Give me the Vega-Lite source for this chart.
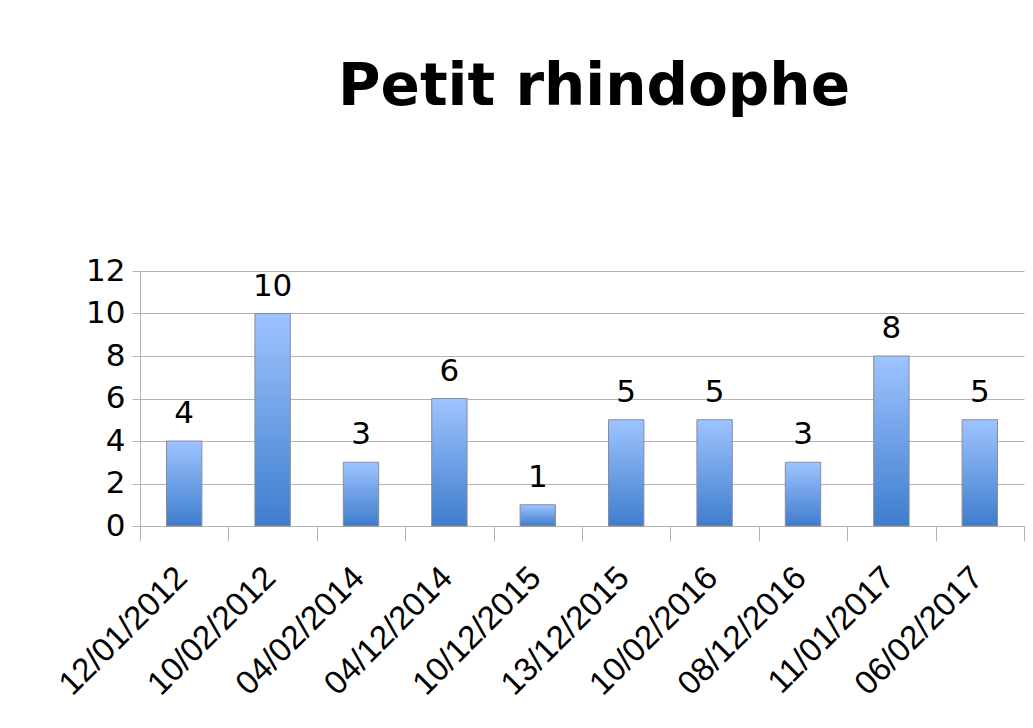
{
  "$schema": "https://vega.github.io/schema/vega-lite/v6.json",
  "width": 884,
  "height": 255,
  "autosize": "none",
  "padding": {"left": 140, "top": 271, "right": 9, "bottom": 202},
  "background": "white",
  "title": {
    "text": "Petit rhindophe",
    "font": "DejaVu Sans",
    "fontWeight": "bold",
    "fontSize": 58,
    "color": "black",
    "anchor": "middle",
    "offset": 138,
    "dx": 12
  },
  "data": {
    "values": [
      {"date": "12/01/2012", "count": 4},
      {"date": "10/02/2012", "count": 10},
      {"date": "04/02/2014", "count": 3},
      {"date": "04/12/2014", "count": 6},
      {"date": "10/12/2015", "count": 1},
      {"date": "13/12/2015", "count": 5},
      {"date": "10/02/2016", "count": 5},
      {"date": "08/12/2016", "count": 3},
      {"date": "11/01/2017", "count": 8},
      {"date": "06/02/2017", "count": 5}
    ]
  },
  "encoding": {
    "x": {
      "field": "date",
      "type": "nominal",
      "sort": null,
      "title": null,
      "scale": {"paddingInner": 0, "paddingOuter": 0},
      "axis": {
        "labelAngle": -45,
        "labelFont": "Liberation Sans",
        "labelFontSize": 33,
        "labelColor": "black",
        "labelPadding": 20,
        "labelOffset": -14,
        "tickBand": "extent",
        "tickSize": 15,
        "tickColor": "#b3b3b3",
        "domainColor": "#b3b3b3",
        "grid": false
      }
    },
    "y": {
      "field": "count",
      "type": "quantitative",
      "title": null,
      "scale": {"domain": [0, 12], "nice": false},
      "axis": {
        "values": [0, 2, 4, 6, 8, 10, 12],
        "labelFont": "DejaVu Sans",
        "labelFontSize": 31,
        "labelColor": "black",
        "labelPadding": 7,
        "tickSize": 8,
        "tickColor": "#b3b3b3",
        "domainColor": "#b3b3b3",
        "gridColor": "#b3b3b3",
        "domainExtent": [-15, 255]
      }
    }
  },
  "layer": [
    {
      "mark": {
        "type": "bar",
        "width": {"band": 0.4},
        "stroke": "#8a8a9a",
        "strokeWidth": 1,
        "color": {
          "gradient": "linear",
          "x1": 0, "y1": 0, "x2": 0, "y2": 1,
          "stops": [
            {"offset": 0, "color": "#9ec4ff"},
            {"offset": 1, "color": "#3e7dcd"}
          ]
        }
      }
    },
    {
      "mark": {
        "type": "text",
        "font": "DejaVu Sans",
        "fontSize": 31,
        "baseline": "alphabetic",
        "dy": -18,
        "color": "black"
      },
      "encoding": {"text": {"field": "count", "type": "quantitative"}}
    }
  ],
  "config": {"view": {"stroke": null}}
}
